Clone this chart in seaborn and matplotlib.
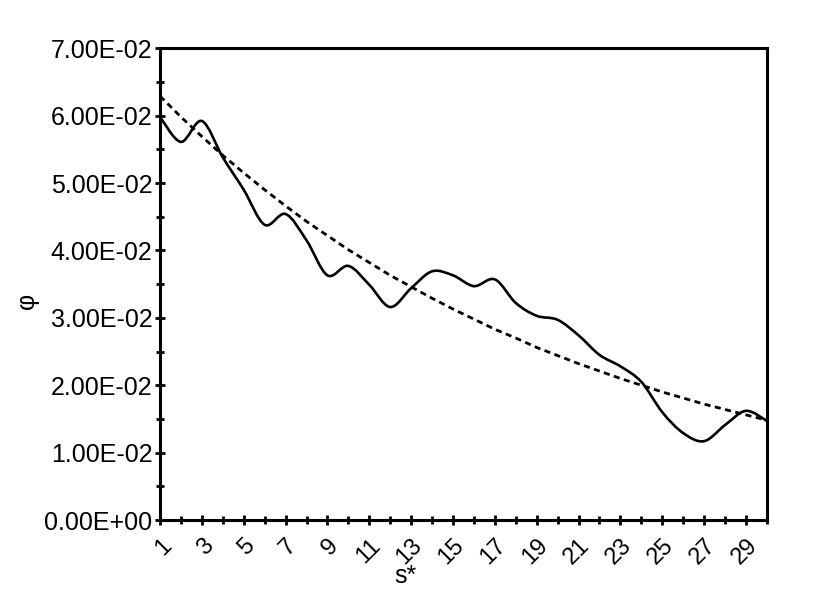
import numpy as np
import pandas as pd
import matplotlib
matplotlib.use("Agg")
import matplotlib.pyplot as plt
from matplotlib.path import Path
from matplotlib.patches import PathPatch
from matplotlib.ticker import MultipleLocator, FixedLocator, FuncFormatter
import seaborn as sns

s_values = list(range(1, 31))
phi_actual = [0.0598, 0.0561, 0.0592, 0.0538, 0.0490, 0.0438, 0.0454, 0.0415, 0.0363, 0.0377,
              0.0349, 0.0316, 0.0344, 0.0369, 0.0363, 0.0347, 0.0357, 0.0322, 0.0303, 0.0297,
              0.0274, 0.0245, 0.0228, 0.0205, 0.0160, 0.0129, 0.0117, 0.0141, 0.0162, 0.0147]
phi_trend = [0.0629, 0.0598, 0.0569, 0.0541, 0.0515, 0.0490, 0.0466, 0.0443, 0.0422, 0.0401,
             0.0382, 0.0363, 0.0346, 0.0329, 0.0313, 0.0298, 0.0283, 0.0270, 0.0256, 0.0244,
             0.0232, 0.0221, 0.0210, 0.0200, 0.0190, 0.0181, 0.0172, 0.0164, 0.0156, 0.0148]
x_tick_labels = [str(v) for v in range(1, 31, 2)]

sns.set_theme(style="white")
plt.rcParams['font.family'] = ['Liberation Sans', 'DejaVu Sans']
plt.rcParams['text.color'] = 'black'
plt.rcParams['axes.labelcolor'] = 'black'
plt.rcParams['xtick.color'] = 'black'
plt.rcParams['ytick.color'] = 'black'

df = pd.DataFrame({"s": s_values, "actual": phi_actual, "trend": phi_trend})

fig = plt.figure(figsize=(8.4, 5.95), dpi=100)
ax = fig.add_axes([0.1905, 0.126, 0.7225, 0.793])

# dashed trend line
sns.lineplot(data=df, x="s", y="trend", ax=ax, color="black", linewidth=2.0,
             linestyle=(0, (2.2, 1.6)))

# smooth solid line (Catmull-Rom style Bezier through the data points)
xs = np.array(df["s"], dtype=float)
ys = np.array(df["actual"], dtype=float)
verts = [(xs[0], ys[0])]
codes = [Path.MOVETO]
t = 1.0 / 6.0
for i in range(len(xs) - 1):
    p0 = (xs[max(i - 1, 0)], ys[max(i - 1, 0)])
    p1 = (xs[i], ys[i])
    p2 = (xs[i + 1], ys[i + 1])
    p3 = (xs[min(i + 2, len(xs) - 1)], ys[min(i + 2, len(xs) - 1)])
    c1 = (p1[0] + (p2[0] - p0[0]) * t, p1[1] + (p2[1] - p0[1]) * t)
    c2 = (p2[0] - (p3[0] - p1[0]) * t, p2[1] - (p3[1] - p1[1]) * t)
    verts += [c1, c2, p2]
    codes += [Path.CURVE4, Path.CURVE4, Path.CURVE4]
ax.add_patch(PathPatch(Path(verts, codes), facecolor="none", edgecolor="black",
                       linewidth=1.9, capstyle="round", joinstyle="round"))

ax.set_xlim(1, 30)
ax.set_ylim(0, 0.07)

ax.xaxis.set_major_locator(FixedLocator(list(range(1, 31, 2))))
ax.xaxis.set_minor_locator(FixedLocator(list(range(2, 31, 2))))
ax.set_xticklabels(x_tick_labels, rotation=45, ha="right", rotation_mode="anchor",
                   fontsize=17, color="black")

ax.yaxis.set_major_locator(MultipleLocator(0.01))
ax.yaxis.set_minor_locator(MultipleLocator(0.005))
ax.yaxis.set_major_formatter(FuncFormatter(lambda v, p: f"{v:.2E}"))
ax.tick_params(axis="y", labelsize=18, labelcolor="black")

ax.tick_params(axis="both", which="major", direction="inout", length=7, width=2.0,
               color="black", left=True, bottom=True, top=False, right=False)
ax.tick_params(axis="both", which="minor", direction="inout", length=6, width=2.0,
               color="black", left=True, bottom=True, top=False, right=False)
ax.tick_params(axis="x", which="both", pad=7)
ax.tick_params(axis="y", which="both", pad=2)

for sp in ax.spines.values():
    sp.set_color("black")
    sp.set_linewidth(2.2)
    sp.set_visible(True)

ax.set_xlabel("s*", fontsize=18, color="black")
ax.xaxis.set_label_coords(0.404, -0.118)
ax.xaxis.label.set_va("center")
ax.set_ylabel("φ", fontsize=18, color="black")
ax.yaxis.set_label_coords(-0.220, 0.465)
ax.yaxis.label.set_va("center")
ax.grid(False)

fig.savefig("out.png", dpi=100, facecolor="white")
